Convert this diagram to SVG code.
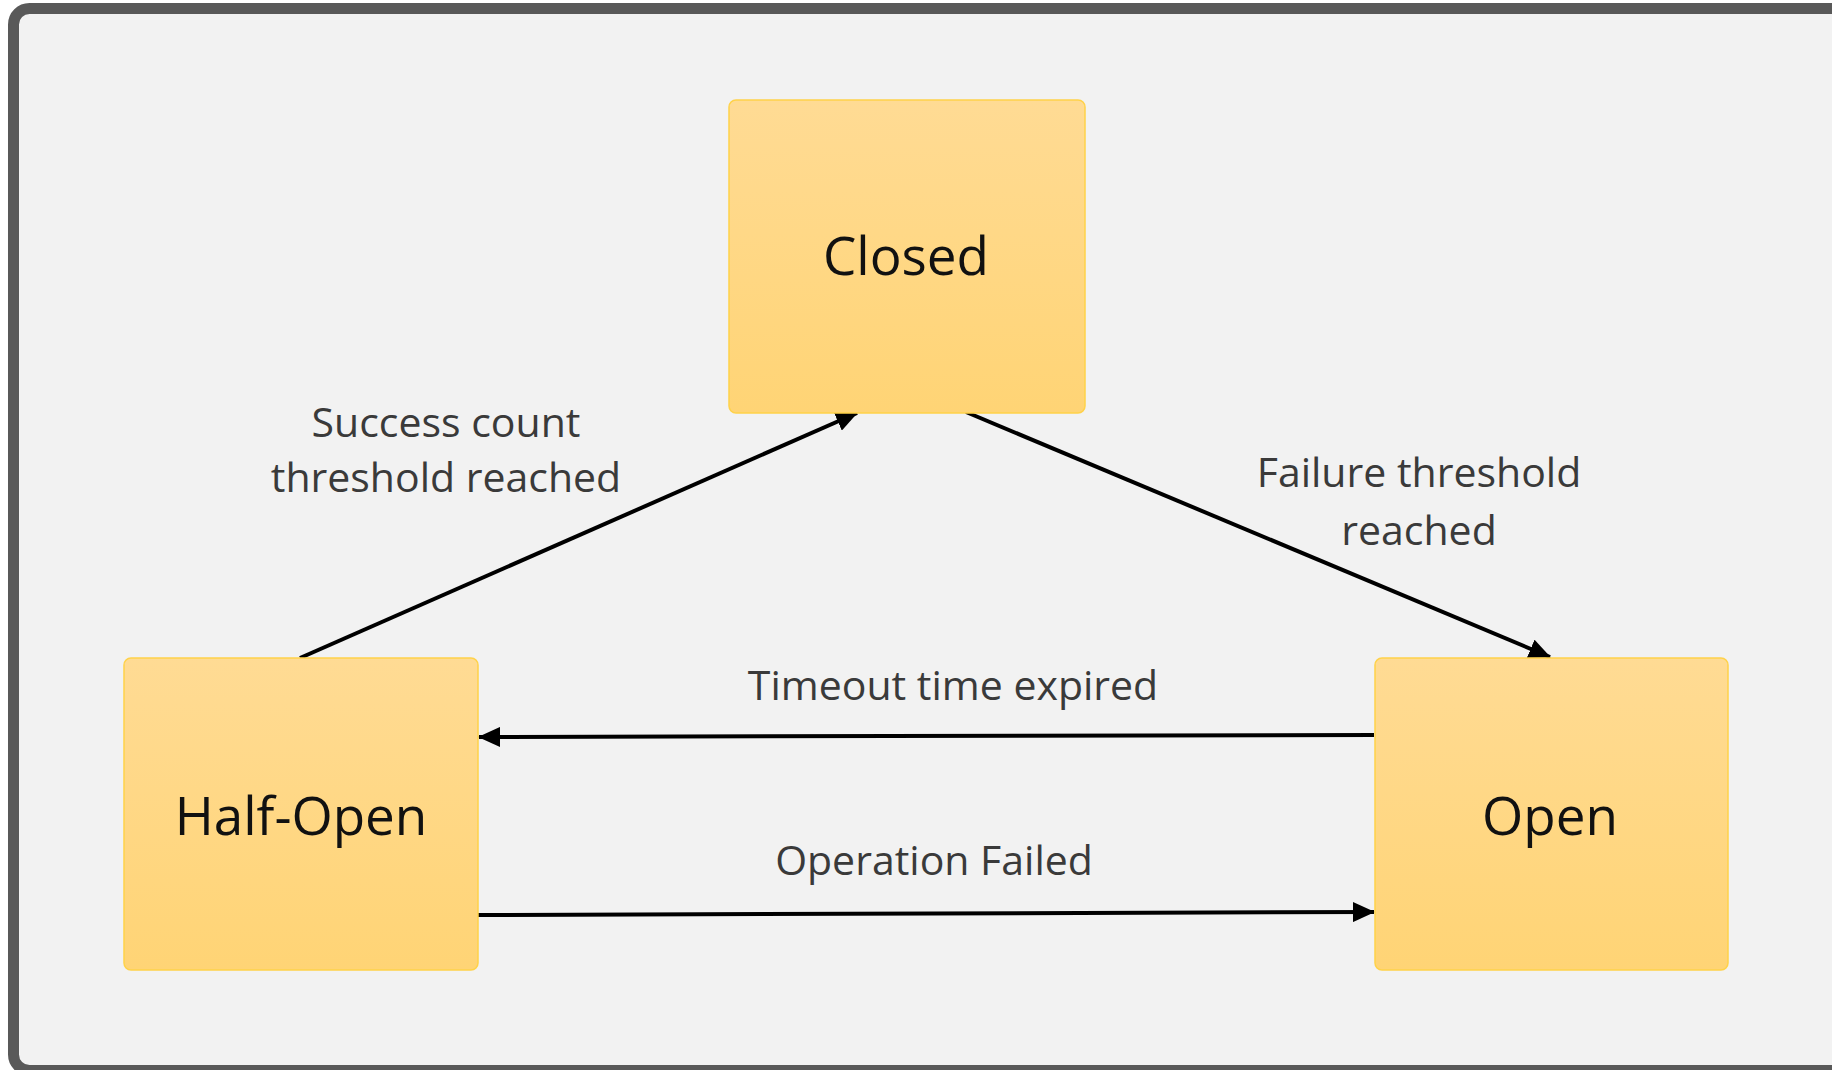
<svg xmlns="http://www.w3.org/2000/svg" width="1832" height="1070" viewBox="0 0 1832 1070">
  <defs>
    <linearGradient id="boxGrad" x1="0" y1="0" x2="0" y2="1">
      <stop offset="0" stop-color="#FFDB94"/>
      <stop offset="1" stop-color="#FFD475"/>
    </linearGradient>
    <marker id="arrow" viewBox="0 0 22 20" refX="21" refY="10" markerWidth="22" markerHeight="20" markerUnits="userSpaceOnUse" orient="auto">
      <path d="M0,0 L22,10 L0,20 Z" fill="#000"/>
    </marker>
  </defs>
  <style>
    .box { fill: url(#boxGrad); stroke: #FFD24A; stroke-width: 1.5; }
    .node-text { font-family: "Open Sans", "Noto Sans", sans-serif; font-size: 53px; fill: #111; text-anchor: middle; }
    .label { font-family: "Open Sans", "Noto Sans", sans-serif; font-size: 41px; fill: #3A3A3A; text-anchor: middle; }
    .conn { stroke: #000; stroke-width: 4; fill: none; }
  </style>
  <rect x="0" y="0" width="1832" height="1070" fill="#FFFFFF"/>
  <rect x="13.5" y="8.5" width="1850" height="1062" rx="16" ry="16" fill="#F2F2F2" stroke="#595959" stroke-width="11"/>

  <g id="connectors">
    <line class="conn" x1="300" y1="658" x2="857" y2="413" marker-end="url(#arrow)"/>
    <line class="conn" x1="966" y1="412" x2="1550" y2="657" marker-end="url(#arrow)"/>
    <line class="conn" x1="1374" y1="735" x2="479" y2="737" marker-end="url(#arrow)"/>
    <line class="conn" x1="478" y1="915" x2="1374" y2="912" marker-end="url(#arrow)"/>
    <text class="label" x="446" y="437">Success count</text>
    <text class="label" x="446" y="492">threshold reached</text>
    <text class="label" x="1419" y="487">Failure threshold</text>
    <text class="label" x="1419" y="545">reached</text>
    <text class="label" x="953" y="700">Timeout time expired</text>
    <text class="label" x="934" y="875">Operation Failed</text>
  </g>

  <g id="closed">
    <rect class="box" x="729" y="100" width="356" height="313" rx="7" ry="7"/>
    <text class="node-text" x="906" y="275">Closed</text>
  </g>
  <g id="half-open">
    <rect class="box" x="124" y="658" width="354" height="312" rx="7" ry="7"/>
    <text class="node-text" x="301" y="835">Half-Open</text>
  </g>
  <g id="open">
    <rect class="box" x="1375" y="658" width="353" height="312" rx="7" ry="7"/>
    <text class="node-text" x="1550" y="835">Open</text>
  </g>
</svg>
